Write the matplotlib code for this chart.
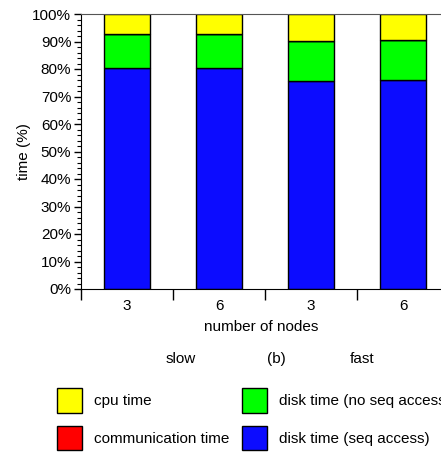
import matplotlib.pyplot as plt
from matplotlib.ticker import MultipleLocator, PercentFormatter
import numpy as np

plt.rcParams['font.family'] = ['Liberation Sans', 'DejaVu Sans']
plt.rcParams['font.size'] = 11

nodes = ['3', '6', '3', '6']
disk_seq = [80.3, 80.5, 75.8, 76.0]
disk_noseq = [12.3, 12.1, 14.5, 14.4]
comm = [0.0, 0.0, 0.0, 0.0]
cpu = [7.4, 7.4, 9.7, 9.6]

W, H = 441, 455
fig = plt.figure(figsize=(W / 100, H / 100), dpi=100)
ax = fig.add_axes([81 / W, 1 - 289 / H, 360 / W, 275 / H])

x = np.arange(len(nodes))
b1 = ax.bar(x, disk_seq, 0.5, color='#0c0cff', edgecolor='black', linewidth=1,
            label='disk time (seq access)')
bottom = np.array(disk_seq)
b2 = ax.bar(x, disk_noseq, 0.5, bottom=bottom, color='#00ff00', edgecolor='black',
            linewidth=1, label='disk time (no seq access)')
bottom = bottom + np.array(disk_noseq)
b3 = ax.bar(x, comm, 0.5, bottom=bottom, color='#ff0000', edgecolor='black',
            linewidth=1, label='communication time')
bottom = bottom + np.array(comm)
b4 = ax.bar(x, cpu, 0.5, bottom=bottom, color='#ffff00', edgecolor='black',
            linewidth=1, label='cpu time')

ax.set_xlim(-0.5, 360 / 92 - 0.5)
ax.set_ylim(0, 100)
ax.yaxis.set_major_locator(MultipleLocator(10))
ax.yaxis.set_minor_locator(MultipleLocator(2))
ax.yaxis.set_major_formatter(PercentFormatter(decimals=0))
ax.tick_params(axis='y', which='major', length=5, width=1, pad=2)
ax.tick_params(axis='y', which='minor', length=3, width=0.8)

ax.set_xticks(x)
ax.set_xticklabels(nodes)
ax.tick_params(axis='x', which='major', length=0, pad=7)
ax.set_xticks(np.arange(len(nodes)) - 0.5, minor=True)
ax.tick_params(axis='x', which='minor', length=8, width=1)

ax.spines['right'].set_visible(False)
ax.spines['top'].set_color('#555555')
ax.set_xlabel('number of nodes', labelpad=5)
ax.set_ylabel('time (%)', labelpad=1)

fig.text(181 / W, 1 - 359 / H, 'slow', ha='center', va='center')
fig.text(276 / W, 1 - 359 / H, '(b)', ha='center', va='center')
fig.text(362 / W, 1 - 359 / H, 'fast', ha='center', va='center')

fig.legend(handles=[b4, b3, b2, b1], ncol=2, loc='upper left',
           bbox_to_anchor=(49 / W, 1 - 380 / H), frameon=False,
           handlelength=1.65, handleheight=2.13, handletextpad=0.8,
           columnspacing=0.8, labelspacing=0.85, borderpad=0)

fig.savefig('out.png', dpi=100)
